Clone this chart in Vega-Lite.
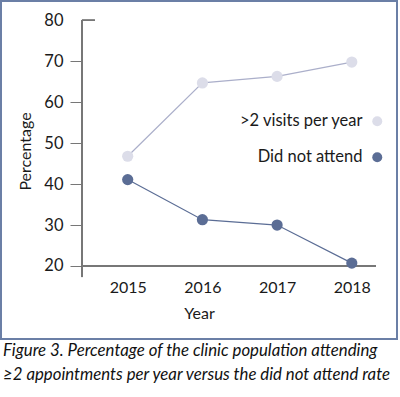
{
  "$schema": "https://vega.github.io/schema/vega-lite/v6.json",
  "autosize": {"type": "none"},
  "width": 396,
  "height": 338,
  "padding": {"left": 1, "top": 1, "right": 3, "bottom": 58},
  "background": "white",
  "config": {
    "font": "Lato",
    "view": {"stroke": "#6b7fa6", "strokeWidth": 2},
    "axis": {"grid": false, "labelFont": "Lato", "titleFont": "Lato", "labelColor": "#1a1a1a", "titleColor": "#1a1a1a", "labelFontWeight": "normal", "titleFontWeight": "normal"}
  },
  "title": {
    "text": ["Figure 3. Percentage of the clinic population attending", "≥2 appointments per year versus the did not attend rate"],
    "orient": "bottom",
    "anchor": "start",
    "frame": "group",
    "font": "Lato",
    "fontStyle": "italic",
    "fontWeight": "normal",
    "fontSize": 16.8,
    "lineHeight": 24,
    "color": "#111111",
    "offset": 4,
    "dx": 2
  },
  "data": {
    "values": [
      {"year": 2015, "series": ">2 visits per year", "value": 46.8},
      {"year": 2016, "series": ">2 visits per year", "value": 64.7},
      {"year": 2017, "series": ">2 visits per year", "value": 66.3},
      {"year": 2018, "series": ">2 visits per year", "value": 69.8},
      {"year": 2015, "series": "Did not attend", "value": 41.1},
      {"year": 2016, "series": "Did not attend", "value": 31.3},
      {"year": 2017, "series": "Did not attend", "value": 30.0},
      {"year": 2018, "series": "Did not attend", "value": 20.7}
    ]
  },
  "layer": [
    {
      "mark": {"type": "rule", "color": "#777777", "strokeWidth": 1},
      "encoding": {
        "x": {"datum": 2014.388, "type": "quantitative"},
        "y": {"datum": 17.3, "type": "quantitative"},
        "y2": {"datum": 80}
      }
    },
    {
      "mark": {"type": "rule", "color": "#777777", "strokeWidth": 1},
      "encoding": {
        "x": {"datum": 2014.388, "type": "quantitative"},
        "x2": {"datum": 2014.56},
        "y": {"datum": 80, "type": "quantitative"}
      }
    },
    {
      "mark": {"type": "rule", "color": "#777777", "strokeWidth": 1},
      "encoding": {
        "x": {"datum": 2014.388, "type": "quantitative"},
        "x2": {"datum": 2018.324},
        "y": {"datum": 20, "type": "quantitative"}
      }
    },
    {
      "mark": {"type": "line", "strokeWidth": 1.2},
      "encoding": {
        "x": {
          "field": "year", "type": "quantitative",
          "scale": {"domain": [2013.304, 2018.605], "nice": false, "zero": false},
          "axis": {
            "values": [2015, 2016, 2017, 2018], "format": "d", "title": "Year",
            "domain": false, "ticks": false, "offset": -61, "labelPadding": 1,
            "labelFontSize": 16, "titleFontSize": 16, "titleBaseline": "middle", "titleY": 35
          }
        },
        "y": {
          "field": "value", "type": "quantitative",
          "scale": {"domain": [2.17, 84.71], "nice": false, "zero": false},
          "axis": {
            "values": [20, 30, 40, 50, 60, 70, 80], "title": "Percentage",
            "domain": false, "offset": -81, "tickSize": 12, "tickColor": "#777777",
            "tickOpacity": {"condition": {"test": "datum.value == 80", "value": 0}, "value": 1},
            "labelPadding": 7, "labelFontSize": 16.5, "titleFontSize": 16,
            "titleX": -57, "titleY": 150, "titleAngle": -90, "titleBaseline": "middle", "titleAlign": "center"
          }
        },
        "color": {
          "field": "series", "type": "nominal",
          "scale": {"domain": [">2 visits per year", "Did not attend"], "range": ["#abafca", "#5b6d95"]},
          "legend": null
        }
      }
    },
    {
      "mark": {"type": "point", "filled": true, "opacity": 1, "size": 125},
      "encoding": {
        "x": {"field": "year", "type": "quantitative"},
        "y": {"field": "value", "type": "quantitative"},
        "color": {
          "field": "series", "type": "nominal",
          "scale": {"domain": [">2 visits per year", "Did not attend"], "range": ["#dcdde9", "#5b6d95"]},
          "legend": {
            "title": null, "orient": "none", "legendX": 368, "legendY": 112,
            "symbolType": "circle", "symbolSize": 100, "symbolOpacity": 1,
            "labelAlign": "right", "labelOffset": -23, "labelFontSize": 16.5, "labelFont": "Lato", "labelColor": "#1a1a1a",
            "rowPadding": 19, "padding": 0
          }
        }
      }
    }
  ],
  "resolve": {"scale": {"color": "independent"}}
}
